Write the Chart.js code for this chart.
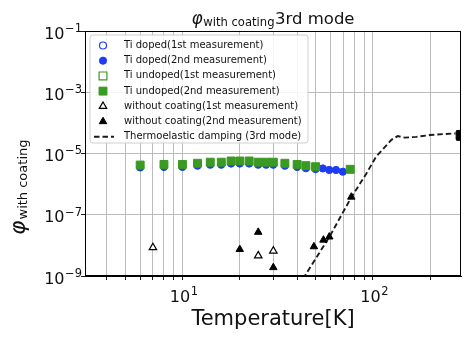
<!DOCTYPE html>
<html><head><meta charset="utf-8">
<script src="https://cdn.jsdelivr.net/npm/chart.js@4/dist/chart.umd.min.js"></script>
<style>html,body{margin:0;padding:0;background:#fff;}canvas{display:block;}</style>
</head><body>
<canvas id="c" width="469" height="338"></canvas>
<script>
// ---- data ----
const tiDoped1T = [];            // hidden under the 2nd-measurement markers
const tiDoped1Phi = [];
const tiDoped2T = [6, 8, 10, 12, 14, 16, 18, 20, 22.4, 25, 27.5, 30, 34.5, 40, 44.5, 50, 54.6, 59, 64, 69.5];
const tiDoped2Phi = [3.5e-6, 3.65e-6, 3.65e-6, 4.0e-6, 4.3e-6, 4.3e-6, 4.7e-6, 4.7e-6, 4.7e-6, 4.3e-6, 4.3e-6, 4.3e-6, 4.0e-6, 3.65e-6, 3.3e-6, 3.1e-6, 3.25e-6, 2.9e-6, 2.9e-6, 2.55e-6];
const tiUndoped1T = [];          // hidden under the 2nd-measurement markers
const tiUndoped1Phi = [];
const tiUndoped2T = [6, 8, 10, 12, 14, 16, 18, 20, 22.4, 25, 27.5, 30, 34.5, 40, 44.5, 50, 76, 286];
const tiUndoped2Phi = [4.2e-6, 4.4e-6, 4.4e-6, 4.8e-6, 5.2e-6, 5.2e-6, 5.7e-6, 5.7e-6, 5.7e-6, 5.2e-6, 5.2e-6, 5.2e-6, 4.8e-6, 4.4e-6, 4.0e-6, 3.7e-6, 3.05e-6, 3.9e-5];
const noCoat1T = [7, 25, 30];
const noCoat1Phi = [8.5e-9, 4.6e-9, 6.6e-9];
const noCoat2T = [20, 25, 30, 49, 55, 59, 77, 292];
const noCoat2Phi = [7.4e-9, 2.7e-8, 1.9e-9, 9.1e-9, 1.5e-8, 1.9e-8, 3.8e-7, 3.9e-5];
const tedT = [43, 45.4, 59.1, 77, 92.3, 104, 125, 135, 147, 169, 199, 233, 280];
const tedPhi = [8e-10, 1.4e-9, 1.9e-8, 3.7e-7, 2.2e-6, 7.9e-6, 2.8e-5, 3.7e-5, 3.3e-5, 3.5e-5, 4.0e-5, 4.3e-5, 4.6e-5];

const legendLabels = [
  'Ti doped(1st measurement)', 'Ti doped(2nd measurement)',
  'Ti undoped(1st measurement)', 'Ti undoped(2nd measurement)',
  'without coating(1st measurement)', 'without coating(2nd measurement)',
  'Thermoelastic damping (3rd mode)'
];
const xTicks = [4, 5, 6, 7, 8, 9, 10, 20, 30, 40, 50, 60, 70, 80, 90, 100, 200];
const xTickBase = '10';
const xTickExps = {10: '1', 100: '2'};
const yTicks = [1e-9, 1e-7, 1e-5, 1e-3, 1e-1];
const yTickBase = '10';
const yTickExps = ['\u22129', '\u22127', '\u22125', '\u22123', '\u22121'];
const titleParts = ['\u03C6', 'with coating', '3rd mode'];
const yLabelParts = ['\u03C6', 'with coating'];
const xLabel = 'Temperature[K]';

const pts = (xs, ys) => xs.map((x, i) => ({x: x, y: ys[i]}));
const FONT = "'DejaVu Sans', sans-serif";
const BLUE = '#1f3cf5', GREEN = '#3a9a22', BLACK = '#000';

const datasets = [
  {label: legendLabels[0], data: pts(tiDoped1T, tiDoped1Phi), pointStyle: 'circle', pointRadius: 3.5,
   pointBackgroundColor: '#fff', pointBorderColor: BLUE, pointBorderWidth: 1.2, order: 5, showLine: false},
  {label: legendLabels[1], data: pts(tiDoped2T, tiDoped2Phi), pointStyle: 'circle', pointRadius: 3.6,
   pointBackgroundColor: BLUE, pointBorderColor: BLUE, pointBorderWidth: 1, order: 4, showLine: false},
  {label: legendLabels[2], data: pts(tiUndoped1T, tiUndoped1Phi), pointStyle: 'rect', pointRadius: 5.5,
   pointBackgroundColor: '#fff', pointBorderColor: GREEN, pointBorderWidth: 1.2, order: 3, showLine: false},
  {label: legendLabels[3], data: pts(tiUndoped2T, tiUndoped2Phi), pointStyle: 'rect', pointRadius: 5.6,
   pointBackgroundColor: GREEN, pointBorderColor: GREEN, pointBorderWidth: 1, order: 2, showLine: false},
  {label: legendLabels[4], data: pts(noCoat1T, noCoat1Phi), pointStyle: 'triangle', pointRadius: 4.3,
   pointBackgroundColor: '#fff', pointBorderColor: BLACK, pointBorderWidth: 1.2, order: 1, showLine: false},
  {label: legendLabels[5], data: pts(noCoat2T, noCoat2Phi),
   pointStyle: (c) => (c.raw && c.raw.x > 200 ? 'rect' : 'triangle'),
   pointRadius: (c) => (c.raw && c.raw.x > 200 ? 7 : 4.3),
   pointBackgroundColor: BLACK, pointBorderColor: BLACK, pointBorderWidth: 1, order: 0, showLine: false},
  {label: legendLabels[6], type: 'line', data: pts(tedT, tedPhi), borderColor: '#1a1a1a', borderWidth: 1.9,
   borderDash: [5.5, 3], pointRadius: 0, fill: false, tension: 0, order: 6}
];

function drawPow(ctx, base, exp, x, baseline, align, size) {
  const fb = size + 'px ' + FONT, fs = (size * 0.72).toFixed(1) + 'px ' + FONT;
  ctx.font = fb; const wb = ctx.measureText(base).width;
  ctx.font = fs; const ws = ctx.measureText(exp).width;
  const total = wb + ws + 0.5;
  let sx = align === 'right' ? x - total : (align === 'center' ? x - total / 2 : x);
  ctx.textAlign = 'left'; ctx.textBaseline = 'alphabetic';
  ctx.font = fb; ctx.fillText(base, sx, baseline);
  ctx.font = fs; ctx.fillText(exp, sx + wb + 0.5, baseline - size * 0.42);
}

const frameAndText = {
  id: 'frameAndText',
  afterDatasetsDraw(chart) {
    const {ctx, chartArea: a} = chart;
    ctx.save();
    ctx.strokeStyle = '#000'; ctx.lineWidth = 1;
    ctx.strokeRect(Math.round(a.left) + 0.5, Math.round(a.top) + 0.5, Math.round(a.right - a.left) - 1, Math.round(a.bottom - a.top) - 1);
    // legend box
    const lx = a.left + 5, ly = a.top + 4, lw = 218, lh = 108, r = 3;
    ctx.beginPath();
    ctx.moveTo(lx + r, ly); ctx.lineTo(lx + lw - r, ly); ctx.arcTo(lx + lw, ly, lx + lw, ly + r, r);
    ctx.lineTo(lx + lw, ly + lh - r); ctx.arcTo(lx + lw, ly + lh, lx + lw - r, ly + lh, r);
    ctx.lineTo(lx + r, ly + lh); ctx.arcTo(lx, ly + lh, lx, ly + lh - r, r);
    ctx.lineTo(lx, ly + r); ctx.arcTo(lx, ly, lx + r, ly, r); ctx.closePath();
    ctx.fillStyle = 'rgba(255,255,255,0.85)'; ctx.fill();
    ctx.strokeStyle = '#d0d0d0'; ctx.lineWidth = 1; ctx.stroke();
    const ds = chart.data.datasets;
    for (let i = 0; i < ds.length; i++) {
      const cy = ly + 10.5 + i * 15.2;
      const mx = lx + 13;
      const d = ds[i];
      if (d.type === 'line') {
        ctx.save(); ctx.strokeStyle = d.borderColor; ctx.lineWidth = d.borderWidth; ctx.setLineDash(d.borderDash);
        ctx.beginPath(); ctx.moveTo(lx + 4, cy); ctx.lineTo(lx + 24, cy); ctx.stroke(); ctx.restore();
      } else {
        const style = typeof d.pointStyle === 'function' ? 'triangle' : d.pointStyle;
        const rad = typeof d.pointRadius === 'function' ? 4.3 : d.pointRadius;
        ctx.save();
        ctx.fillStyle = d.pointBackgroundColor; ctx.strokeStyle = d.pointBorderColor; ctx.lineWidth = d.pointBorderWidth;
        ctx.beginPath();
        if (style === 'circle') ctx.arc(mx, cy, rad, 0, Math.PI * 2);
        else if (style === 'rect') { const s = rad * Math.SQRT1_2; ctx.rect(mx - s, cy - s, 2 * s, 2 * s); }
        else { ctx.moveTo(mx, cy - rad); ctx.lineTo(mx + rad * 0.866, cy + rad * 0.5); ctx.lineTo(mx - rad * 0.866, cy + rad * 0.5); ctx.closePath(); }
        ctx.fill(); ctx.stroke();
        ctx.restore();
      }
      ctx.font = '10px ' + FONT; ctx.textBaseline = 'middle'; ctx.textAlign = 'left';
      ctx.fillStyle = '#111';
      ctx.fillText(d.label, lx + 34, cy);
    }
    ctx.restore();
  },
  afterDraw(chart) {
    const {ctx, chartArea: a} = chart;
    const xs = chart.scales.x, ys = chart.scales.y;
    ctx.save();
    ctx.fillStyle = '#111';
    // tick labels with superscript exponents
    yTicks.forEach((v, i) => {
      const py = ys.getPixelForValue(v);
      drawPow(ctx, yTickBase, yTickExps[i], a.left - 3, py + 7.5, 'right', 16);
    });
    xTicks.forEach((v) => {
      if (!xTickExps[v]) return;
      const px = xs.getPixelForValue(v);
      drawPow(ctx, xTickBase, xTickExps[v], px + 1.5, a.bottom + 25.5, 'center', 16);
    });
    ctx.textBaseline = 'alphabetic'; ctx.textAlign = 'left';
    // title
    const fBig = 'italic 17px ' + FONT, fSub = '11.6px ' + FONT, fMain = '16.5px ' + FONT;
    ctx.font = fBig; const w0 = ctx.measureText(titleParts[0]).width;
    ctx.font = fSub; const w1 = ctx.measureText(titleParts[1]).width;
    ctx.font = fMain; const w2 = ctx.measureText(titleParts[2]).width;
    let tx = (a.left + a.right) / 2 - (w0 + w1 + w2 + 1) / 2;
    const by = 24;
    ctx.font = fBig; ctx.fillText(titleParts[0], tx, by); tx += w0 + 0.5;
    ctx.font = fSub; ctx.fillText(titleParts[1], tx, by + 1.5); tx += w1 + 0.5;
    ctx.font = fMain; ctx.fillText(titleParts[2], tx, by);
    // y label
    ctx.translate(25, 235); ctx.rotate(-Math.PI / 2);
    ctx.font = 'italic 22px ' + FONT; const wp = ctx.measureText(yLabelParts[0]).width;
    ctx.fillText(yLabelParts[0], 0, 0);
    ctx.font = '13px ' + FONT; ctx.fillText(yLabelParts[1], wp + 1, 2);
    ctx.restore();
  }
};

new Chart(document.getElementById('c'), {
  type: 'scatter',
  data: {datasets: datasets},
  options: {
    responsive: false, animation: false, devicePixelRatio: 1,
    layout: {padding: {top: 31, right: 8, left: 0, bottom: 0}},
    plugins: {legend: {display: false}, tooltip: {enabled: false}, title: {display: false}},
    scales: {
      x: {
        type: 'logarithmic', min: 3.08, max: 290, bounds: 'data',
        afterBuildTicks: (s) => { s.ticks = xTicks.map(v => ({value: v})); },
        afterFit: (s) => { s.height = 62; },
        ticks: {autoSkip: false, maxRotation: 0, padding: 5, color: '#111',
          font: {family: FONT, size: 14}, callback: () => ''},
        grid: {color: '#b4b4b4', lineWidth: 0.9, tickColor: '#000', tickLength: 4, drawTicks: true},
        border: {display: true, color: '#000', width: 1},
        title: {display: true, text: xLabel, color: '#111', font: {family: FONT, size: 21}, padding: {top: 0, bottom: 6}}
      },
      y: {
        type: 'logarithmic', min: 1e-9, max: 1e-1, bounds: 'data',
        afterBuildTicks: (s) => { s.ticks = yTicks.map(v => ({value: v})); },
        afterFit: (s) => { s.width = 85; },
        ticks: {autoSkip: false, padding: 1, color: '#111',
          font: {family: FONT, size: 14}, callback: () => ''},
        grid: {color: '#b4b4b4', lineWidth: 0.9, tickColor: '#000', tickLength: 4, drawTicks: true},
        border: {display: true, color: '#000', width: 1}
      }
    }
  },
  plugins: [frameAndText]
});
</script>
</body></html>
